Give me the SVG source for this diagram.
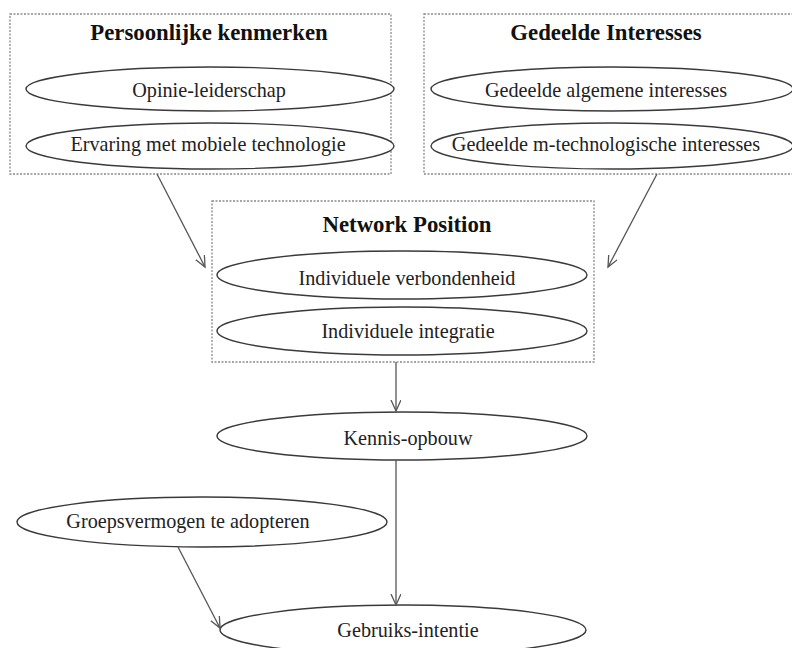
<svg xmlns="http://www.w3.org/2000/svg" width="792" height="648" viewBox="0 0 792 648">
<defs>
<style>
.bg{fill:#fff}
.box{fill:none;stroke:#8a8a8a;stroke-width:1.3;stroke-dasharray:2 1.5}
.ell{fill:#fff;stroke:#3a3a3a;stroke-width:1.4}
.t{font-family:"Liberation Serif",serif;font-size:20.2px;fill:#222;text-anchor:middle}
.h{font-family:"Liberation Serif",serif;font-size:22.8px;font-weight:bold;fill:#111;text-anchor:middle}
.edge{fill:none;stroke:#555;stroke-width:1.3}
</style>
<marker id="arr" markerUnits="userSpaceOnUse" markerWidth="14" markerHeight="12" refX="11" refY="5" orient="auto">
<path d="M0,0 L11,5 L0,10" fill="none" stroke="#555" stroke-width="1.3"/>
</marker>
</defs>
<rect class="bg" x="0" y="0" width="792" height="648"/>

<g id="persoonlijke">
<rect class="box" x="10" y="14" width="381" height="160"/>
<text class="h" x="209" y="40">Persoonlijke kenmerken</text>
</g>
<g id="opinie">
<ellipse class="ell" cx="210" cy="89" rx="184" ry="22"/>
<text class="t" x="209" y="97">Opinie-leiderschap</text>
</g>
<g id="ervaring">
<ellipse class="ell" cx="210" cy="146" rx="184" ry="23"/>
<text class="t" x="208" y="151">Ervaring met mobiele technologie</text>
</g>

<g id="gedeelde">
<rect class="box" x="424" y="14" width="390" height="160"/>
<text class="h" x="606" y="40">Gedeelde Interesses</text>
</g>
<g id="algemene">
<ellipse class="ell" cx="612" cy="89" rx="181" ry="22"/>
<text class="t" x="606" y="97">Gedeelde algemene interesses</text>
</g>
<g id="mtech">
<ellipse class="ell" cx="612" cy="146" rx="181" ry="23"/>
<text class="t" x="606" y="151">Gedeelde m-technologische interesses</text>
</g>

<g id="network">
<rect class="box" x="212" y="201" width="382" height="161"/>
<text class="h" x="407" y="232">Network Position</text>
</g>
<g id="verbondenheid">
<ellipse class="ell" cx="402" cy="275" rx="185" ry="24"/>
<text class="t" x="407" y="285">Individuele verbondenheid</text>
</g>
<g id="integratie">
<ellipse class="ell" cx="402" cy="331" rx="185" ry="24"/>
<text class="t" x="408" y="338">Individuele integratie</text>
</g>

<g id="kennis">
<ellipse class="ell" cx="402" cy="436" rx="185" ry="24"/>
<text class="t" x="408" y="445">Kennis-opbouw</text>
</g>

<g id="groeps">
<ellipse class="ell" cx="202" cy="522" rx="185" ry="25"/>
<text class="t" x="188" y="528">Groepsvermogen te adopteren</text>
</g>

<g id="gebruiks">
<ellipse class="ell" cx="403" cy="630" rx="183" ry="25"/>
<text class="t" x="408" y="637">Gebruiks-intentie</text>
</g>

<g id="connectors">
<line class="edge" x1="157" y1="174" x2="205" y2="267" marker-end="url(#arr)"/>
<line class="edge" x1="657" y1="174" x2="608" y2="267" marker-end="url(#arr)"/>
<line class="edge" x1="396" y1="362" x2="396" y2="411" marker-end="url(#arr)"/>
<line class="edge" x1="396" y1="460" x2="396" y2="605" marker-end="url(#arr)"/>
<line class="edge" x1="178" y1="547" x2="220" y2="628" marker-end="url(#arr)"/>
</g>
</svg>
